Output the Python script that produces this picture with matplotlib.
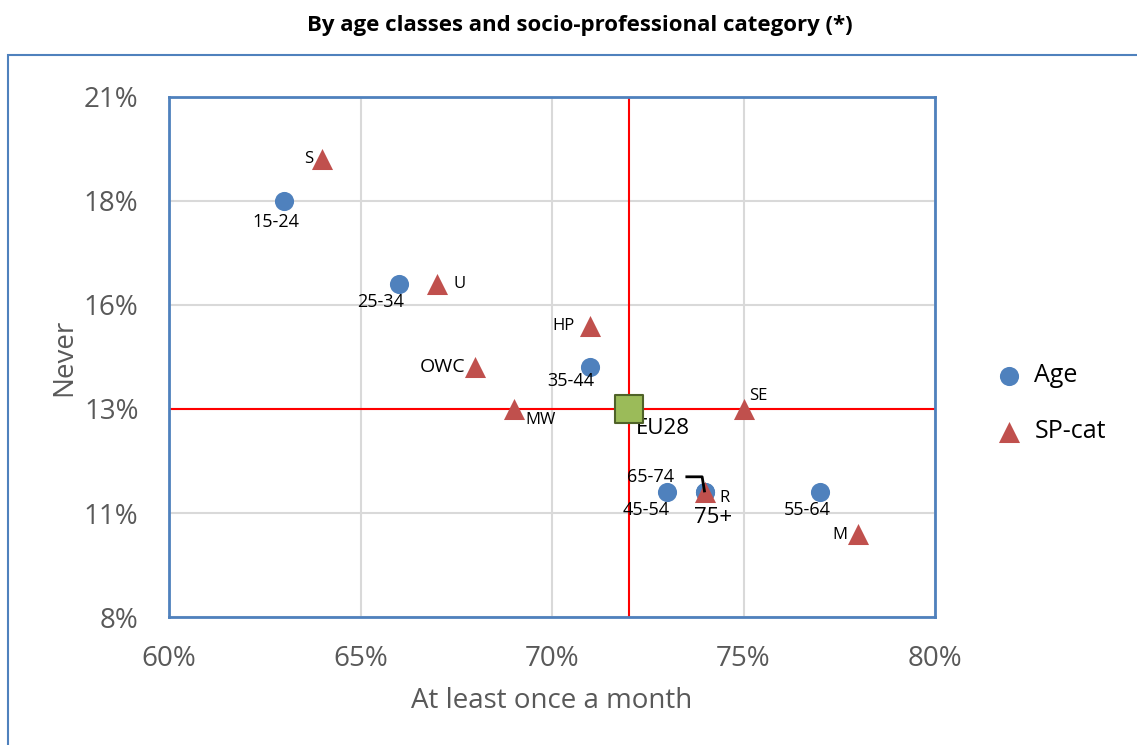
import matplotlib
matplotlib.use("Agg")
import matplotlib.pyplot as plt
from matplotlib.patches import Rectangle

plt.rcParams['font.family'] = ['Open Sans', 'DejaVu Sans']

# data
age_labels = ["15-24", "25-34", "35-44", "45-54", "55-64", "65-74", "75+"]
age_x = [0.63, 0.66, 0.71, 0.73, 0.77, 0.74, 0.74]
age_y = [0.18, 0.16, 0.14, 0.11, 0.11, 0.11, 0.11]

sp_labels = ["S", "U", "HP", "OWC", "MW", "SE", "R", "M"]
sp_x = [0.64, 0.67, 0.71, 0.68, 0.69, 0.75, 0.74, 0.78]
sp_y = [0.19, 0.16, 0.15, 0.14, 0.13, 0.13, 0.11, 0.10]

eu_x, eu_y = 0.72, 0.13

x_ticks = [0.60, 0.65, 0.70, 0.75, 0.80]
x_tick_labels = ["60%", "65%", "70%", "75%", "80%"]
y_ticks = [0.08, 0.105, 0.13, 0.155, 0.18, 0.205]
y_tick_labels = ["8%", "11%", "13%", "16%", "18%", "21%"]

blue = "#4F81BD"
red = "#C0504D"

fig = plt.figure(figsize=(11.37, 7.45), dpi=100)
ax = fig.add_axes([169 / 1137, 1 - 617 / 745, (935 - 169) / 1137, (617 - 97) / 745])

# outer chart frame (cropped on right and bottom)
fig.patches.append(Rectangle((8 / 1137, -0.05), 1.2, 1 - 55 / 745 + 0.05, transform=fig.transFigure,
                             fill=False, edgecolor=blue, linewidth=1.5))

ax.set_xlim(0.60, 0.80)
ax.set_ylim(0.08, 0.205)
ax.set_xticks(x_ticks)
ax.set_xticklabels(x_tick_labels)
ax.set_yticks(y_ticks)
ax.set_yticklabels(y_tick_labels)
ax.tick_params(length=0, labelsize=20, colors="#595959")
ax.tick_params(axis="x", pad=20)
ax.tick_params(axis="y", pad=22)
ax.grid(True, color="#D9D9D9", linewidth=1.5)
ax.set_axisbelow(True)
for s in ax.spines.values():
    s.set_color(blue)
    s.set_linewidth(2)

ax.axvline(eu_x, color="#FF0000", linewidth=1.5, zorder=2)
ax.axhline(eu_y, color="#FF0000", linewidth=1.5, zorder=2)

ax.scatter(age_x, age_y, s=190, color=blue, marker="o", zorder=3, label="Age", linewidths=0)
ax.scatter(sp_x, sp_y, s=230, color=red, marker="^", zorder=4, label="SP-cat", linewidths=0)
ax.scatter([eu_x], [eu_y], s=420, color="#9BBB59", marker="s", edgecolors="#4F6228",
           linewidths=1.5, zorder=5)

# point labels
age_off = {"15-24": (-6, -15), "25-34": (-13, -13), "35-44": (-14, -10),
           "45-54": (-15, -13), "55-64": (-9, -13), "65-74": (-39, 11), "75+": (6, -18)}
for lab, x, y in zip(age_labels, age_x, age_y):
    dx, dy = age_off[lab]
    ax.annotate(lab, (x, y), xytext=(dx, dy), textcoords="offset points",
                ha="center", va="center", fontsize=16 if lab == "75+" else 13)
# leader line for 65-74
ax.plot([0.7352, 0.7392, 0.7398], [0.1137, 0.1137, 0.1103], color="black", linewidth=2, zorder=6)

sp_off = {"S": (-10, 0, 12), "U": (16, 0, 12), "HP": (-19, 0, 12), "OWC": (-24, 0, 14),
          "MW": (19, -8, 12), "SE": (11, 9, 12), "R": (14, -4, 12), "M": (-13, -1, 12)}
for lab, x, y in zip(sp_labels, sp_x, sp_y):
    dx, dy, fs = sp_off[lab]
    ax.annotate(lab, (x, y), xytext=(dx, dy), textcoords="offset points",
                ha="center", va="center", fontsize=fs)
ax.annotate("EU28", (eu_x, eu_y), xytext=(25, -14), textcoords="offset points",
            ha="center", va="center", fontsize=16)

ax.set_xlabel("At least once a month", fontsize=20, color="#595959", labelpad=10)
ax.set_ylabel("Never", fontsize=20, color="#595959", labelpad=4)

fig.text(580 / 1137, 1 - 25 / 745, "By age classes and socio-professional category (*)",
         ha="center", va="center", fontsize=16, fontweight="bold")

ax.legend(loc="center left", bbox_to_anchor=(1.035, 0.41), frameon=False, fontsize=18,
          handletextpad=0.0, labelspacing=1.25, markerscale=1.0)

fig.savefig("out.png", dpi=100)
